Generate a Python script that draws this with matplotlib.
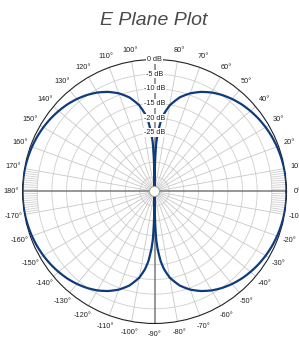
import numpy as np
import matplotlib
matplotlib.use("Agg")
import matplotlib.pyplot as plt
from matplotlib.patches import Circle

# pattern, one quadrant (degrees, dB); the plot is symmetric
quad_angles = [0, 5, 10, 15, 20, 25, 30, 35, 40, 45, 50, 55, 60, 65, 70, 75, 80, 83, 85, 87, 88, 89, 90]
quad_gain = [0, -0.03, -0.13, -0.3, -0.54, -0.85, -1.25, -1.73, -2.32, -3.0, -3.85,
             -4.85, -6.05, -7.55, -9.4, -11.8, -15.2, -18.3, -21.2, -25.6, -28.6, -35.0, -45.0]

ring_levels = [-40, -35, -30, -25, -20, -15, -10, -5]
ring_labels = [0, -5, -10, -15, -20, -25]
angle_labels = [a for a in range(-170, 190, 10) if a != 90]
r_min, r_max = -45, 0

# mirror the quadrant to the full circle
qa = np.array(quad_angles, dtype=float)
qg = np.array(quad_gain, dtype=float)
ang = np.concatenate([qa, 180 - qa[::-1], 180 + qa, 360 - qa[::-1]])
gain = np.concatenate([qg, qg[::-1], qg, qg[::-1]])

plt.rcParams['font.family'] = ['Liberation Sans', 'DejaVu Sans']

fig = plt.figure(figsize=(2.99, 3.39), dpi=100)
ax = fig.add_axes([0.0753, 0.0457, 0.883, 0.779], projection='polar')
ax.set_ylim(r_min, r_max)
ax.set_xticks([])
ax.set_yticks([])
ax.grid(False)
ax.spines['polar'].set_color('#222222')
ax.spines['polar'].set_linewidth(0.8)

# rings
t = np.linspace(0, 2 * np.pi, 400)
for lv in ring_levels:
    ax.plot(t, np.full_like(t, lv), color='#d2cfc6', lw=0.6, zorder=1)

# spokes every 10 deg
for a in range(0, 360, 10):
    th = np.deg2rad(a)
    if a % 90 == 0:
        ax.plot([th, th], [r_min, r_max], color='#7a7a7a', lw=1.1, zorder=2)
    else:
        ax.plot([th, th], [r_min, r_max], color='#c8c8c8', lw=0.6, zorder=1)

# fine ticks near 0 and 180
for a in list(range(-10, 11)) + list(range(170, 191)):
    if a % 10 == 0:
        continue
    th = np.deg2rad(a)
    ax.plot([th, th], [-5, 0], color='#c8c8c8', lw=0.5, zorder=1)

# pattern
line, = ax.plot(np.deg2rad(ang), gain, color='#0d3b7d', lw=1.6, zorder=3)
line.get_path()._interpolation_steps = 20

# centre hole
ax.add_patch(Circle((0.5, 0.5), 5 / 264, transform=ax.transAxes,
                    facecolor='white', edgecolor='#999999', lw=0.6, zorder=5))

# dB labels along the 90 deg axis
for lv in ring_labels:
    ax.text(np.pi / 2, lv, f"{lv} dB", ha='center', va='center', fontsize=5.2,
            color='#222222', zorder=6,
            bbox=dict(facecolor='white', edgecolor='none', pad=0.6))

# angle labels
r_lab = r_max + (r_max - r_min) * 0.085
for a in angle_labels:
    ax.text(np.deg2rad(a), r_lab, f"{a}\u00b0", ha='center', va='center',
            fontsize=5.3, color='#222222', clip_on=False)

fig.text(0.513, 0.94, "E Plane Plot", ha='center', va='center', fontsize=14,
         style='italic', color='#4a4a4a')

fig.savefig('out.png', dpi=100)
